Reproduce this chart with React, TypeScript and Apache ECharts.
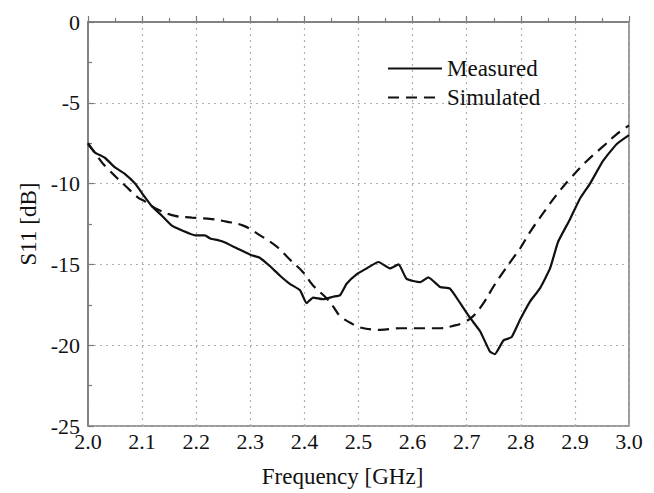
import React, { useEffect, useRef } from "react";
import * as echarts from "echarts";

const measuredFreq = [
  2.0, 2.013, 2.031, 2.05, 2.068, 2.087, 2.1, 2.118, 2.137, 2.155, 2.174, 2.198, 2.216, 2.226, 2.24, 2.25,
  2.275, 2.3, 2.318, 2.336, 2.355, 2.373, 2.392, 2.404, 2.416, 2.435, 2.453, 2.466, 2.478, 2.497, 2.515,
  2.537, 2.558, 2.574, 2.589, 2.614, 2.629, 2.651, 2.669, 2.688, 2.706, 2.725, 2.743, 2.752, 2.768, 2.783,
  2.799, 2.817, 2.835, 2.854, 2.869, 2.891, 2.909, 2.928, 2.952, 2.977, 3.0,
];
const measuredS11 = [
  -7.56, -8.08, -8.4, -9.0, -9.4, -10.0, -10.6, -11.4, -12.0, -12.6, -12.9, -13.2, -13.2, -13.4, -13.5, -13.6,
  -14.0, -14.4, -14.6, -15.1, -15.7, -16.2, -16.6, -17.4, -17.05, -17.15, -17.0, -16.9, -16.2, -15.6, -15.25,
  -14.85, -15.25, -15.0, -15.9, -16.1, -15.8, -16.4, -16.5, -17.4, -18.3, -19.15, -20.4, -20.55, -19.7, -19.5,
  -18.4, -17.3, -16.5, -15.25, -13.6, -12.2, -10.95, -10.0, -8.6, -7.56, -7.0,
];

const simulatedFreq = [
  2.0, 2.026, 2.037, 2.055, 2.068, 2.092, 2.105, 2.129, 2.161, 2.192, 2.229, 2.256, 2.287, 2.318, 2.349,
  2.373, 2.398, 2.416, 2.441, 2.453, 2.466, 2.484, 2.503, 2.54, 2.577, 2.614, 2.651, 2.675, 2.694, 2.712,
  2.731, 2.749, 2.768, 2.786, 2.799, 2.817, 2.842, 2.866, 2.891, 2.922, 2.952, 2.977, 3.0,
];
const simulatedS11 = [
  -7.5, -8.7, -9.1, -9.7, -10.1, -10.85, -11.1, -11.6, -12.0, -12.1, -12.2, -12.35, -12.6, -13.2, -13.9,
  -14.7, -15.5, -16.3, -17.1, -17.6, -18.2, -18.6, -18.9, -19.05, -18.95, -18.95, -18.95, -18.8, -18.6, -18.2,
  -17.4, -16.4, -15.45, -14.6, -14.0, -13.0, -11.8, -10.7, -9.7, -8.6, -7.7, -6.95, -6.4,
];

const seriesNames = ["Measured", "Simulated"];
const xTitle = "Frequency [GHz]";
const yTitle = "S11 [dB]";

const FONT = "Liberation Serif";
const AXIS_COLOR = "#7a7a7a";

export default function App() {
  const ref = useRef<HTMLDivElement>(null);
  useEffect(() => {
    if (!ref.current) return;
    const chart = echarts.init(ref.current, undefined, { renderer: "svg" });
    const measured = measuredFreq.map((f, i) => [f, measuredS11[i]]);
    const simulated = simulatedFreq.map((f, i) => [f, simulatedS11[i]]);
    chart.setOption({
      animation: false,
      backgroundColor: "#ffffff",
      grid: {
        left: 88,
        top: 22,
        right: 25,
        bottom: 64.5,
        show: true,
        borderColor: AXIS_COLOR,
        borderWidth: 1.5,
        backgroundColor: "transparent",
      },
      legend: {
        orient: "vertical",
        left: 382,
        top: 52,
        itemWidth: 54,
        itemHeight: 14,
        itemGap: 6,
        data: seriesNames,
        itemStyle: { opacity: 0 },
        textStyle: { fontFamily: FONT, fontSize: 23, color: "#111" },
      },
      xAxis: {
        type: "value",
        min: 2.0,
        max: 3.0,
        interval: 0.1,
        name: xTitle,
        nameLocation: "middle",
        nameGap: 39,
        nameTextStyle: { fontFamily: FONT, fontSize: 23, color: "#111", padding: [0, 32, 0, 0] },
        axisLine: { show: true, lineStyle: { color: AXIS_COLOR, width: 1.5 } },
        axisTick: { show: true, inside: true, length: 6, lineStyle: { color: AXIS_COLOR, width: 1.2 } },
        minorTick: { show: true, splitNumber: 2, length: 4, lineStyle: { color: AXIS_COLOR, width: 1.2 } },
        axisLabel: {
          fontFamily: FONT,
          fontSize: 22,
          color: "#111",
          margin: 4,
          formatter: (v: number) => v.toFixed(1),
        },
        splitLine: { show: true, lineStyle: { color: "#b0b0b0", type: [2, 4], width: 1.2 } },
      },
      yAxis: {
        type: "value",
        min: -25,
        max: 0,
        interval: 5,
        name: yTitle,
        nameLocation: "middle",
        nameGap: 48,
        nameRotate: 90,
        nameTextStyle: { fontFamily: FONT, fontSize: 23, color: "#111" },
        axisLine: { show: true, lineStyle: { color: AXIS_COLOR, width: 1.5 } },
        axisTick: { show: true, inside: true, length: 6, lineStyle: { color: AXIS_COLOR, width: 1.2 } },
        minorTick: { show: true, splitNumber: 2, length: 4, lineStyle: { color: AXIS_COLOR, width: 1.2 } },
        axisLabel: { fontFamily: FONT, fontSize: 22, color: "#111", margin: 8 },
        splitLine: { show: true, lineStyle: { color: "#b0b0b0", type: [2, 4], width: 1.2 } },
      },
      series: [
        {
          name: seriesNames[0],
          type: "line",
          data: measured,
          symbol: "none",
          smooth: 0.15,
          lineStyle: { color: "#111", width: 2.2, type: "solid" },
          itemStyle: { color: "#111" },
        },
        {
          name: seriesNames[1],
          type: "line",
          data: simulated,
          symbol: "none",
          smooth: 0.4,
          lineStyle: { color: "#111", width: 2.2, type: [11, 7] },
          itemStyle: { color: "#111" },
        },
      ],
    });
    return () => chart.dispose();
  }, []);
  return <div ref={ref} style={{ width: 654, height: 493, position: "fixed", left: 0, top: 0 }} />;
}
